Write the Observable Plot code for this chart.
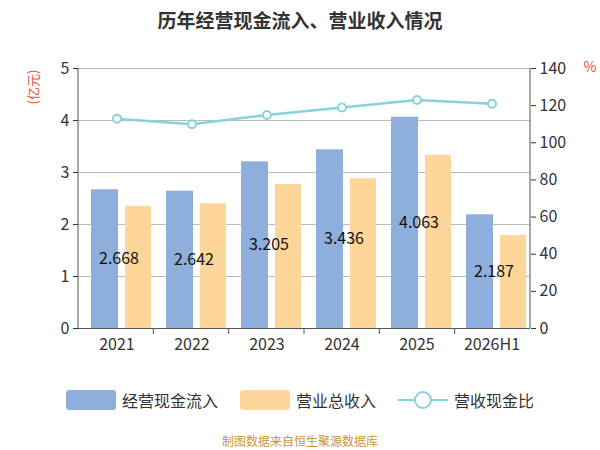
<!DOCTYPE html>
<html><head><meta charset="utf-8">
<script src="https://cdn.jsdelivr.net/npm/d3@7"></script>
<script src="https://cdn.jsdelivr.net/npm/@observablehq/plot@0.6"></script>
<style>
body{margin:0;background:#fff;font-family:"Noto Sans CJK SC","Noto Sans",sans-serif;}
#wrap{width:600px;height:450px;position:relative}
.title{position:absolute;top:6px;width:600px;text-align:center;font-size:19px;font-weight:bold;color:#333}
.legend{position:absolute;top:388px;left:0;width:600px;display:flex;justify-content:center;gap:22px;font-size:16px;color:#333;align-items:center}
.legend span{display:flex;align-items:center;gap:6px}
.cap{position:absolute;top:432px;width:600px;text-align:center;font-size:12px;color:#c8963c}
#chart{position:absolute;top:45px;left:0}
</style></head><body>
<div id="wrap">
<div class="title">历年经营现金流入、营业收入情况</div>
<div id="chart"></div>
<div class="legend">
<span><svg width="50" height="22"><rect x="0" y="1" width="50" height="20" rx="3" fill="#8eaedb"/></svg>经营现金流入</span>
<span><svg width="50" height="22"><rect x="0" y="1" width="50" height="20" rx="3" fill="#fed699"/></svg>营业总收入</span>
<span><svg width="50" height="22"><line x1="0" y1="11" x2="50" y2="11" stroke="#86d4d8" stroke-width="2"/><circle cx="25" cy="11" r="8" fill="#fff" stroke="#86d4d8" stroke-width="2"/></svg>营收现金比</span>
</div>
<div class="cap">制图数据来自恒生聚源数据库</div>
</div>
<script>
const years = ["2021","2022","2023","2024","2025","2026H1"];
const cashIn = [2.668,2.642,3.205,3.436,4.063,2.187];
const revenue = [2.35,2.40,2.77,2.88,3.33,1.79];
const ratio = [113,110,115,119,123,121];
const k = 5/140;
const rows = years.map((y,i)=>({y,c:cashIn[i],r:revenue[i],p:ratio[i]*k}));
const plot = Plot.plot({
  width:600, height:325, marginTop:23, marginBottom:42, marginLeft:78, marginRight:70,
  x:{domain:years, padding:0, label:null},
  y:{domain:[0,5], label:null},
  style:{fontSize:"16px", color:"#333", fontFamily:"Noto Sans CJK SC, Noto Sans, sans-serif"},
  marks:[
    Plot.gridY([1,2,3,4,5],{stroke:"#bbb", strokeOpacity:1}),
    Plot.barY(rows,{x:"y",y:"c",fill:"#8eaedb",insetLeft:12,insetRight:36}),
    Plot.barY(rows,{x:"y",y:"r",fill:"#fed699",insetLeft:46,insetRight:3}),
    Plot.line(rows,{x:"y",y:"p",stroke:"#86d4d8",strokeWidth:2.5}),
    Plot.dot(rows,{x:"y",y:"p",r:4,fill:"#fff",stroke:"#86d4d8",strokeWidth:2}),
    Plot.text(rows,{x:"y",y:d=>d.c/2,text:d=>d.c.toFixed(3),fill:"#111",fontSize:16,dx:2}),
    Plot.ruleY([0],{stroke:"#555"}),
    Plot.axisX({tickSize:0,fontSize:16,tickPadding:10}),
    Plot.axisY([0,1,2,3,4,5],{anchor:"left",tickSize:5,fontSize:16,tickFormat:d3.format("d"),label:null}),
    Plot.axisY(d3.range(0,141,20).map(v=>v*k),{anchor:"right",tickSize:5,fontSize:16,tickFormat:d=>Math.round(d/k),label:null})
  ]
});
const svg = d3.select(plot);
svg.append("text").attr("transform","translate(38,42) rotate(-90)").attr("text-anchor","middle").attr("fill","#e0562a").attr("font-size",13).text("(亿元)");
svg.append("text").attr("x",590).attr("y",27).attr("text-anchor","middle").attr("fill","#e0562a").attr("font-size",14).text("%");
svg.append("line").attr("x1",78).attr("x2",78).attr("y1",23).attr("y2",283).attr("stroke","#555");
svg.append("line").attr("x1",530).attr("x2",530).attr("y1",23).attr("y2",283).attr("stroke","#555");
for (let i=1;i<6;i++){const x=78+i*452/6;svg.append("line").attr("x1",x).attr("x2",x).attr("y1",283).attr("y2",289).attr("stroke","#555");}
document.getElementById("chart").appendChild(plot);
</script>
</body></html>
